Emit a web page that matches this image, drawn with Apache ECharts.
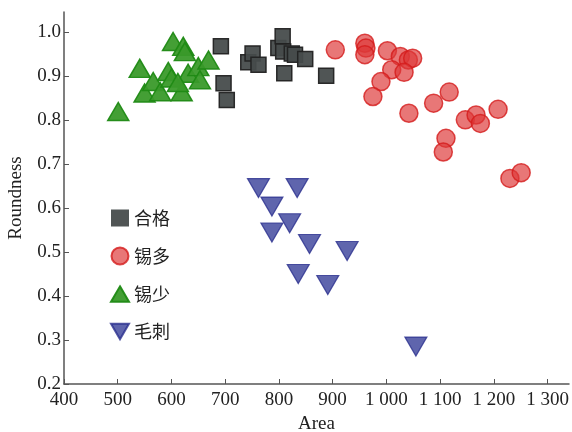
<!DOCTYPE html>
<html><head><meta charset="utf-8">
<script src="https://cdn.jsdelivr.net/npm/echarts@6/dist/echarts.min.js"></script>
<style>html,body{margin:0;padding:0;background:#fff}#c{width:572px;height:432px}</style>
</head><body><div id="c"></div>
<script>
var seriesNames = ['合格', '锡多', '锡少', '毛刺'];
var xTicks = [400, 500, 600, 700, 800, 900, 1000, 1100, 1200, 1300];
var yTicks = [0.2, 0.3, 0.4, 0.5, 0.6, 0.7, 0.8, 0.9, 1.0];

// 合格 (qualified) [Area, Roundness]
var qualified = [
  [692, 0.967], [697, 0.883], [703, 0.845], [743, 0.931], [751, 0.951], [762, 0.925],
  [799, 0.963], [807, 0.99], [808, 0.955], [810, 0.906], [824, 0.951], [830, 0.948],
  [849, 0.938], [888, 0.90]
];
// 锡多 (excess solder)
var tinMore = [
  [905, 0.959], [960, 0.974], [962, 0.963], [960, 0.948], [1002, 0.957], [1026, 0.944],
  [1041, 0.936], [1049, 0.94], [1010, 0.914], [1033, 0.908], [990, 0.887], [975, 0.853],
  [1117, 0.863], [1088, 0.838], [1042, 0.815], [1147, 0.80], [1167, 0.811], [1175, 0.792],
  [1208, 0.824], [1111, 0.758], [1106, 0.727], [1230, 0.667], [1251, 0.68]
];
// 锡少 (insufficient solder)
var tinLess = [
  [501, 0.819], [541, 0.917], [550, 0.861], [566, 0.887], [579, 0.864], [594, 0.91],
  [600, 0.895], [603, 0.978], [619, 0.864], [622, 0.967], [625, 0.955], [631, 0.906],
  [650, 0.921], [653, 0.891], [669, 0.936], [612, 0.885]
];
// 毛刺 (burr)
var burr = [
  [762, 0.645], [834, 0.645], [787, 0.603], [820, 0.565], [787, 0.544], [857, 0.518],
  [927, 0.502], [836, 0.45], [891, 0.425], [1055, 0.285]
];

var serif = '"Liberation Serif","Times New Roman",serif';
var downTri = 'path://M0,0 L22,0 L11,19 Z';
var upTri = 'path://M10,0 L20,17 L0,17 Z';

var chart = echarts.init(document.getElementById('c'));
chart.setOption({
  animation: false,
  grid: { left: 64, right: 3, top: 12, bottom: 48, containLabel: false, outerBoundsMode: 'none' },
  legend: {
    orient: 'vertical', left: 105, top: 204,
    itemWidth: 18, itemHeight: 17, itemGap: 19.5,
    textStyle: { fontFamily: '"Noto Sans CJK SC"', fontSize: 18, color: '#222' },
    data: [
      { name: '合格', icon: 'rect', itemStyle: { borderWidth: 0 } },
      { name: '锡多', icon: 'circle' },
      { name: '锡少', icon: upTri },
      { name: '毛刺', icon: downTri }
    ]
  },
  xAxis: {
    type: 'value', min: 400, max: 1340, interval: 100,
    name: 'Area', nameLocation: 'middle', nameGap: 29,
    nameTextStyle: { fontFamily: serif, fontSize: 19, color: '#222' },
    axisLine: { lineStyle: { color: '#555', width: 1.5 } },
    axisTick: { inside: true, length: 5, customValues: xTicks, lineStyle: { color: '#555' } },
    axisLabel: {
      customValues: xTicks, margin: 7, fontFamily: serif, fontSize: 19, color: '#222',
      formatter: function (v) { return v >= 1000 ? Math.floor(v / 1000) + ' ' + String(v % 1000).padStart(3, '0') : String(v); }
    },
    splitLine: { show: false }
  },
  yAxis: {
    type: 'value', min: 0.2, max: 1.045, interval: 0.1,
    name: 'Roundness', nameLocation: 'middle', nameGap: 38,
    nameTextStyle: { fontFamily: serif, fontSize: 19, color: '#222' },
    axisLine: { show: true, lineStyle: { color: '#555', width: 1.5 } },
    axisTick: { show: true, inside: true, length: 5, customValues: yTicks, lineStyle: { color: '#555' } },
    axisLabel: {
      customValues: yTicks, margin: 3, fontFamily: serif, fontSize: 19, color: '#222',
      formatter: function (v) { return v.toFixed(1); }
    },
    splitLine: { show: false }
  },
  series: [
    { name: '合格', type: 'scatter', data: qualified, symbol: 'rect', symbolSize: 15,
      itemStyle: { color: '#474c4c', borderColor: '#222', borderWidth: 1.5, opacity: 0.95 } },
    { name: '锡多', type: 'scatter', data: tinMore, symbol: 'circle', symbolSize: 18,
      itemStyle: { color: 'rgba(222,55,55,0.85)', borderColor: '#d41c1c', borderWidth: 1.5 } },
    { name: '锡少', type: 'scatter', data: tinLess, symbol: upTri, symbolSize: [21, 18],
      itemStyle: { color: '#3a9a2a', borderColor: '#1f8a14', borderWidth: 1.5, opacity: 0.95 } },
    { name: '毛刺', type: 'scatter', data: burr, symbol: downTri, symbolSize: [22, 19],
      itemStyle: { color: '#373e98', borderColor: '#2a308e', borderWidth: 1.2 } }
  ]
});
</script></body></html>
